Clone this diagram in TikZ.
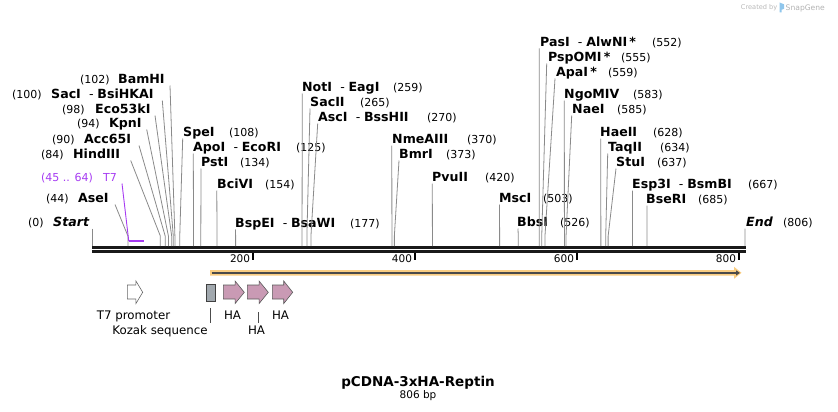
\documentclass[tikz,border=0pt]{standalone}
\usepackage{fontspec}
\setmainfont{DejaVu Sans}
\usetikzlibrary{arrows.meta}
\definecolor{t7purple}{HTML}{A63BF2}
\definecolor{cutgrey}{HTML}{8A8A8A}
\definecolor{hapink}{HTML}{C99AB4}
\definecolor{kozakgrey}{HTML}{A1A8AE}
\definecolor{orfband}{HTML}{F9CD82}
\definecolor{orfdark}{HTML}{4A4A4A}
\definecolor{snapblue}{HTML}{8FC6EC}
\tikzset{
	enzname/.style={anchor=base west, inner sep=0pt, font=\fontsize{12.6}{14}\selectfont\bfseries},
	enznum/.style={anchor=base west, inner sep=0pt, font=\fontsize{11}{13}\selectfont},
	cutline/.style={draw=cutgrey, line width=0.8pt},
	backbone/.style={draw=black!90, line width=2.6pt},
	ticklbl/.style={anchor=base east, inner sep=0pt, font=\fontsize{10.5}{12}\selectfont},
	featlbl/.style={anchor=base, inner sep=0pt, font=\fontsize{11.8}{13}\selectfont},
	featline/.style={draw=black!70, line width=0.7pt}
}
% bp -> x
\newcommand{\bpx}[1]{92.3+0.8098*#1}
\newcommand{\enzyme}[7] {
	\node[enzname] (#1) at (#4,#6+4.6) {#3};
	\node[enznum] (#1-pos) at (#5,#6+4.6) {(#2)};
	\coordinate (#1-top) at (#7,#6+6.5);
	\coordinate (#1-bend) at ({\bpx{#2}},236);
	\coordinate (#1-cut) at ({\bpx{#2}},246);
	\draw[cutline] (#1-top) -- (#1-bend) -- (#1-cut);
}
\newcommand{\bptick}[1] {
	\draw[black, line width=2pt] ({\bpx{#1}-0.8},252.5) -- ({\bpx{#1}-0.8},260);
	\node[ticklbl] (tick#1) at ({\bpx{#1}-4},262.3) {#1};
}
\newcommand{\featarrow}[3] {
	\path[#3] (#1,285) -- ({#2-0.44*(#2-#1)},285) -- ({#2-0.44*(#2-#1)},281)
		-- (#2,292.3) -- ({#2-0.44*(#2-#1)},303.6) -- ({#2-0.44*(#2-#1)},299)
		-- (#1,299) -- cycle;
}
\newcommand{\dash}{\hspace{0.65em}{\mdseries -}\hspace{0.3em}}

\begin{document}
\begin{tikzpicture}[x=1pt, y=-1pt]
		\useasboundingbox (0,0) rectangle (838,412);

		% Watermark
		\node[anchor=base east, inner sep=0pt, text=black!28, font=\fontsize{6.6}{8}\selectfont] (created) at (777.5,10) {Created by};
		\fill[snapblue] (779.5,2.5) -- (784,4.3) -- (784,8.8) -- (781.6,9.8) -- (781.6,12.5) -- (779.5,12.5) -- cycle;
		\node[anchor=base west, inner sep=0pt, text=black!30, font=\fontsize{7.6}{9}\selectfont] (snapgene) at (785.5,10.5) {SnapGene};

		% Sequence line
		\draw[backbone] (92.3,247.2) -- (746,247.2);
		\draw[backbone] (92.3,251.3) -- (746,251.3);
		\bptick{200}
		\bptick{400}
		\bptick{600}
		\bptick{800}

		% Left side
		\enzyme{Start}{0}{\textit{Start}}{53}{28}{222}{92.3}
		\enzyme{AseI}{44}{AseI}{78}{46}{198}{115}
		\enzyme{HindIII}{84}{HindIII}{73}{41}{154}{130.7}
		\enzyme{Acc65I}{90}{Acc65I}{84}{52}{139}{139}
		\enzyme{KpnI}{94}{KpnI}{109}{77}{123}{146.7}
		\enzyme{Eco53kI}{98}{Eco53kI}{95}{62}{109}{155}
		\enzyme{SacI}{100}{SacI\dash BsiHKAI}{51}{12}{94}{162.3}
		\enzyme{BamHI}{102}{BamHI}{118}{80}{79}{170}

		% T7 primer site
		\node[enznum, text=t7purple] (T7-pos) at (41,181.5) {(45 .. 64)};
		\node[enznum, text=t7purple] (T7) at (103,181.5) {T7};
		\coordinate (T7-top) at (122,183.5);
		\coordinate (T7-start) at ({\bpx{45}},241);
		\coordinate (T7-end) at ({\bpx{64}},241);
		\draw[t7purple, line width=0.9pt] (T7-top) -- (T7-start);
		\draw[t7purple, line width=2pt] (T7-start) -- (T7-end);

		% Right side
		\enzyme{SpeI}{108}{SpeI}{183}{229}{132}{182.7}
		\enzyme{ApoI}{125}{ApoI\dash EcoRI}{193}{296}{147}{193.3}
		\enzyme{PstI}{134}{PstI}{201}{240}{162}{201}
		\enzyme{BciVI}{154}{BciVI}{217}{265}{184}{216.8}
		\enzyme{BspEI}{177}{BspEI\dash BsaWI}{235}{350}{223}{235.4}
		\enzyme{NotI}{259}{NotI\dash EagI}{302}{393}{87}{302.3}
		\enzyme{SacII}{265}{SacII}{310}{360}{102}{310}
		\enzyme{AscI}{270}{AscI\dash BssHII}{318}{427}{117}{317.7}
		\enzyme{NmeAIII}{370}{NmeAIII}{392}{467}{139}{391.8}
		\enzyme{BmrI}{373}{BmrI}{399}{446}{154}{399}
		\enzyme{PvuII}{420}{PvuII}{432}{485}{177}{432.3}
		\enzyme{MscI}{503}{MscI}{499}{543}{198}{499.5}
		\enzyme{BbsI}{526}{BbsI}{517}{560}{222}{518}
		\enzyme{PasI}{552}{PasI\dash AlwNI\,*}{540}{652}{42}{539.2}
		\enzyme{PspOMI}{555}{PspOMI\,*}{548}{621}{57}{546.7}
		\enzyme{ApaI}{559}{ApaI\,*}{556}{608}{72}{555}
		\enzyme{NgoMIV}{583}{NgoMIV}{564}{633}{94}{564.3}
		\enzyme{NaeI}{585}{NaeI}{572}{617}{109}{571.7}
		\enzyme{HaeII}{628}{HaeII}{600}{653}{132}{600.8}
		\enzyme{TaqII}{634}{TaqII}{608}{660}{147}{607.7}
		\enzyme{StuI}{637}{StuI}{616}{657}{162}{616}
		\enzyme{Esp3I}{667}{Esp3I\dash BsmBI}{632}{748}{184}{632.4}
		\enzyme{BseRI}{685}{BseRI}{646}{698}{199}{647}
		\enzyme{End}{806}{\textit{End}}{746}{783}{222}{745}

		% Reptin ORF
		\fill[orfband] (210,270) -- (734,270) -- (734,266.8) -- (741.5,272.8)
			-- (734,278.8) -- (734,275.6) -- (210,275.6) -- cycle;
		\draw[orfdark, line width=2pt, -{Triangle[length=4pt,width=5pt]}] (211.7,272.9) -- (740,272.9);

		% Features
		\featarrow{127.3}{142.7}{draw=black!60, fill=white, line width=0.6pt}
		\fill[kozakgrey, draw=black!75, line width=0.6pt] (206,284.3) rectangle (215.3,301.7);
		\featarrow{223.3}{244.3}{draw=black!65, fill=hapink, line width=0.6pt}
		\featarrow{247.3}{268.3}{draw=black!65, fill=hapink, line width=0.6pt}
		\featarrow{272.3}{292.7}{draw=black!65, fill=hapink, line width=0.6pt}

		\node[featlbl] (t7prom) at (133.5,319) {T7 promoter};
		\node[featlbl] (kozak) at (160,334.5) {Kozak sequence};
		\node[featlbl] (ha1) at (232.5,319) {HA};
		\node[featlbl] (ha2) at (256.5,334.5) {HA};
		\node[featlbl] (ha3) at (280.5,319) {HA};
		\coordinate (kozak-foot) at (210.7,308.3);
		\coordinate (kozak-tag) at (210.7,323.3);
		\coordinate (ha2-foot) at (258.3,312);
		\coordinate (ha2-tag) at (258.3,322.7);
		\draw[featline] (kozak-foot) -- (kozak-tag);
		\draw[featline] (ha2-foot) -- (ha2-tag);

		% Title
		\node[anchor=base, inner sep=0pt, font=\fontsize{13.5}{16}\selectfont\bfseries] (title) at (418,386) {pCDNA-3xHA-Reptin};
		\node[anchor=base, inner sep=0pt, font=\fontsize{10.5}{12}\selectfont] (length) at (418,398.5) {806 bp};

	\end{tikzpicture}
\end{document}
